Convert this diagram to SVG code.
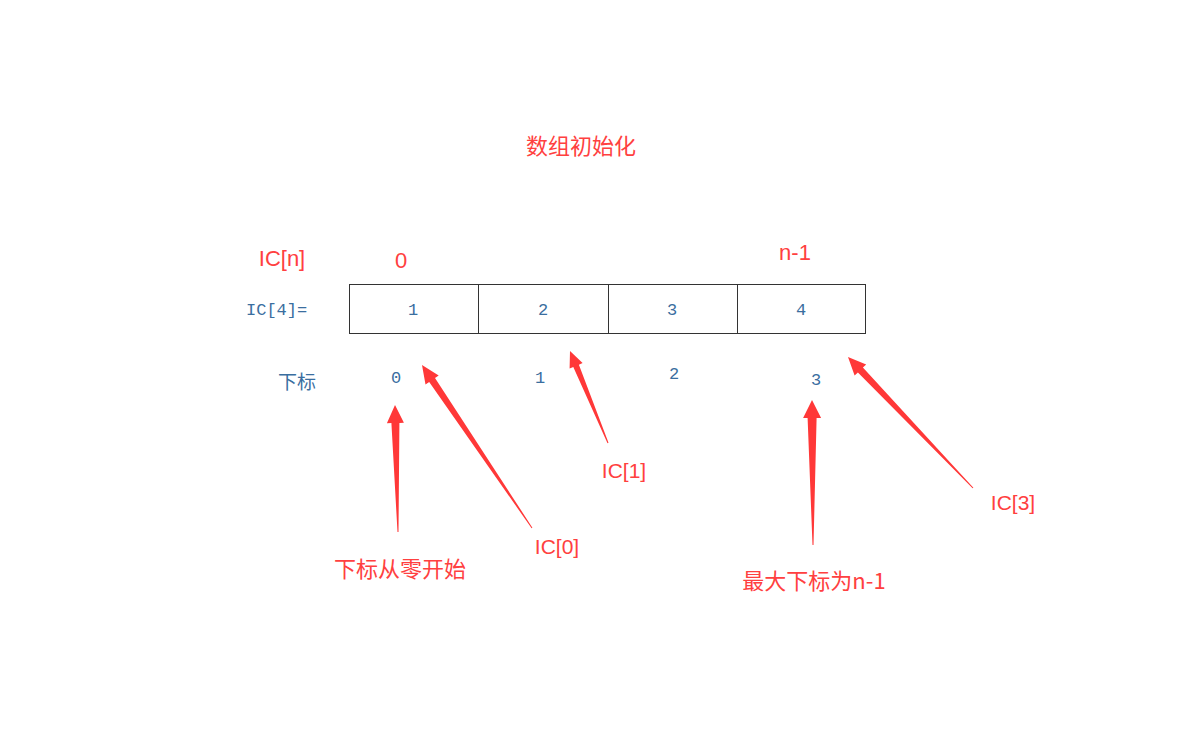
<svg xmlns="http://www.w3.org/2000/svg" width="1197" height="731" viewBox="0 0 1197 731">
<style>
.red{fill:#ff4040;font-family:"Liberation Sans","Noto Sans CJK SC",sans-serif;font-size:21px;}
.big{font-size:22px;}
.cjk{fill:#ff4040;font-family:"Noto Sans CJK SC","Liberation Sans",sans-serif;font-size:22px;}
.blue{fill:#3a6e9f;font-family:"Liberation Mono","Noto Sans CJK SC",monospace;font-size:17px;}
.bcjk{fill:#3a6e9f;font-family:"Noto Sans CJK SC",sans-serif;font-size:19px;}
.cell{fill:#fff;stroke:#333;stroke-width:1;}
.arrow{fill:#ff3838;stroke:none;}
</style>
<rect width="1197" height="731" fill="#fff"/>
<text class="cjk" x="581" y="154" text-anchor="middle">数组初始化</text>
<g id="labels">
<text class="red big" x="282" y="266" text-anchor="middle">IC[n]</text>
<text class="red big" x="401" y="268" text-anchor="middle">0</text>
<text class="red big" x="795" y="260" text-anchor="middle">n-1</text>
<text class="blue" x="246" y="315">IC[4]=</text>
<text class="bcjk" x="278" y="389">下标</text>
</g>
<g id="array">
<rect class="cell" x="349.5" y="284.5" width="129" height="49"/>
<rect class="cell" x="478.5" y="284.5" width="130" height="49"/>
<rect class="cell" x="608.5" y="284.5" width="129" height="49"/>
<rect class="cell" x="737.5" y="284.5" width="128" height="49"/>
<text class="blue" x="413" y="315" text-anchor="middle">1</text>
<text class="blue" x="543" y="315" text-anchor="middle">2</text>
<text class="blue" x="672" y="315" text-anchor="middle">3</text>
<text class="blue" x="801" y="315" text-anchor="middle">4</text>
</g>
<g id="indices">
<text class="blue" x="396" y="383" text-anchor="middle">0</text>
<text class="blue" x="540" y="383" text-anchor="middle">1</text>
<text class="blue" x="674" y="379" text-anchor="middle">2</text>
<text class="blue" x="816" y="385" text-anchor="middle">3</text>
</g>
<g id="connectors">
<polygon class="arrow" points="395,405 403.9,422.8 399.4,422.9 398.5,532 397.5,532 391.4,423.1 386.9,423.2"/>
<polygon class="arrow" points="422,365 438.7,375.4 435.0,377.9 532.4,527.7 531.6,528.3 429.2,381.9 425.5,384.4"/>
<polygon class="arrow" points="570,351 582.6,363.1 578.9,364.7 608.5,442.8 607.5,443.2 573.3,367.0 569.6,368.5"/>
<polygon class="arrow" points="812,400 821.1,417.9 816.6,418 813.5,545 812.5,545 807.6,418 803.1,418.1"/>
<polygon class="arrow" points="848,357 866.2,364.5 862.9,367.6 973.4,487.7 972.6,488.3 857.9,372.4 854.6,375.5"/>
</g>
<g id="callouts">
<text class="cjk" x="400" y="577" text-anchor="middle">下标从零开始</text>
<text class="red" x="557" y="554" text-anchor="middle">IC[0]</text>
<text class="red" x="624" y="478" text-anchor="middle">IC[1]</text>
<text class="cjk" x="814" y="589" text-anchor="middle">最大下标为n-1</text>
<text class="red" x="1013" y="510" text-anchor="middle">IC[3]</text>
</g>
</svg>
